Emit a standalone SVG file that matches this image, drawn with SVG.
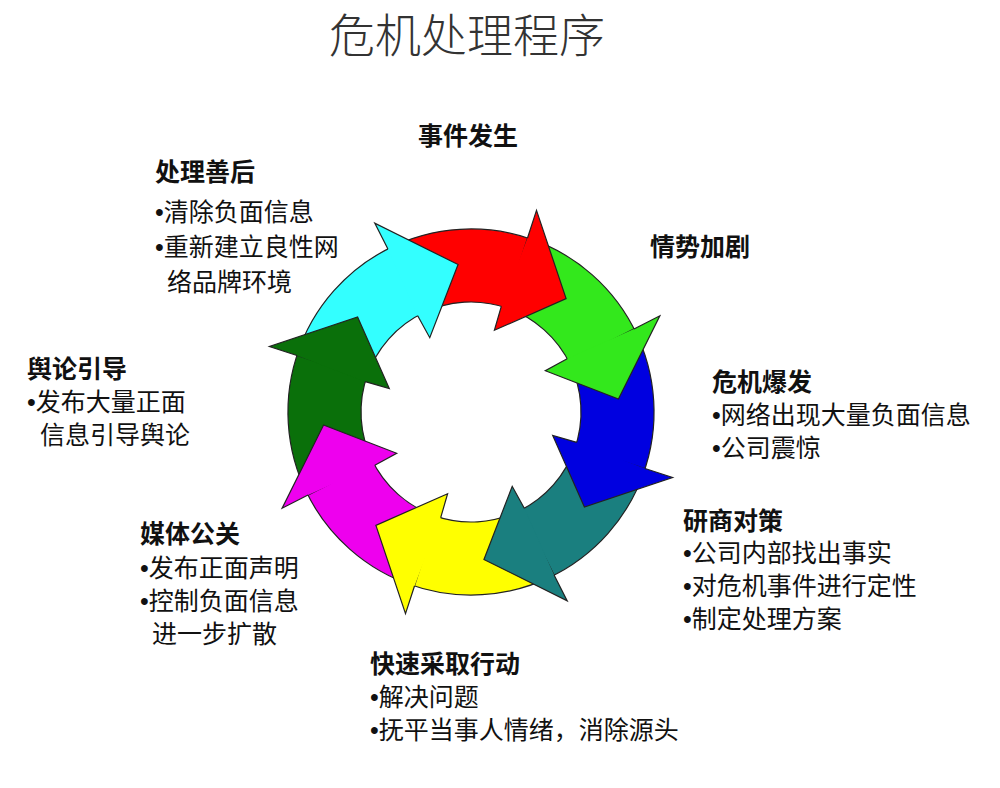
<svg xmlns="http://www.w3.org/2000/svg" width="1000" height="788" viewBox="0 0 1000 788">
<style>
text{font-family:"Liberation Sans","Noto Sans CJK SC",sans-serif;fill:#111}
.h{font-size:25px;font-weight:bold}
.b{font-size:25px}
.t{font-size:46px;fill:#333;font-weight:300;font-family:"Noto Sans CJK SC",sans-serif}
.a{stroke:#222;stroke-width:1.2}
</style>
<defs>
<path id="body" d="M -83.1,-163.1 A183,183 0 0 1 62.6,-172 L37.6,-103.4 A110,110 0 0 0 -49.9,-98 Z"/>
<path id="head" d="M 56.5,-174 L65.5,-201.6 L95.1,-113.4 L23.4,-81.7 L30.3,-105.7"/>
</defs>
<rect width="1000" height="788" fill="#fff"/>
<text class="t" x="467" y="52" text-anchor="middle">危机处理程序</text>
<g id="connectors" transform="translate(471,412)">
<use href="#body" class="a" fill="#ff0000"/>
<use href="#body" class="a" fill="#33e81c" transform="rotate(45)"/>
<use href="#body" class="a" fill="#0000e0" transform="rotate(90)"/>
<use href="#body" class="a" fill="#1a7f7f" transform="rotate(135)"/>
<use href="#body" class="a" fill="#ffff00" transform="rotate(180)"/>
<use href="#body" class="a" fill="#ee00ee" transform="rotate(225)"/>
<use href="#body" class="a" fill="#0a700a" transform="rotate(270)"/>
<use href="#body" class="a" fill="#33ffff" transform="rotate(315)"/>
<use href="#head" class="a" fill="#ff0000"/>
<use href="#head" class="a" fill="#33e81c" transform="rotate(45)"/>
<use href="#head" class="a" fill="#0000e0" transform="rotate(90)"/>
<use href="#head" class="a" fill="#1a7f7f" transform="rotate(135)"/>
<use href="#head" class="a" fill="#ffff00" transform="rotate(180)"/>
<use href="#head" class="a" fill="#ee00ee" transform="rotate(225)"/>
<use href="#head" class="a" fill="#0a700a" transform="rotate(270)"/>
<use href="#head" class="a" fill="#33ffff" transform="rotate(315)"/>
</g>
<g id="n1"><text class="h" x="418" y="145">事件发生</text></g>
<g id="n2"><text class="h" x="650" y="256">情势加剧</text></g>
<g id="n3"><text class="h" x="712" y="391">危机爆发</text>
<text class="b" x="712" y="424">•网络出现大量负面信息</text>
<text class="b" x="712" y="457">•公司震惊</text></g>
<g id="n4"><text class="h" x="683" y="530">研商对策</text>
<text class="b" x="683" y="562">•公司内部找出事实</text>
<text class="b" x="683" y="595">•对危机事件进行定性</text>
<text class="b" x="683" y="628">•制定处理方案</text></g>
<g id="n5"><text class="h" x="370" y="673">快速采取行动</text>
<text class="b" x="370" y="706">•解决问题</text>
<text class="b" x="370" y="739">•抚平当事人情绪，消除源头</text></g>
<g id="n6"><text class="h" x="140" y="543">媒体公关</text>
<text class="b" x="140" y="577">•发布正面声明</text>
<text class="b" x="140" y="610">•控制负面信息</text>
<text class="b" x="152" y="643">进一步扩散</text></g>
<g id="n7"><text class="h" x="27" y="378">舆论引导</text>
<text class="b" x="27" y="411">•发布大量正面</text>
<text class="b" x="40" y="444">信息引导舆论</text></g>
<g id="n8"><text class="h" x="155" y="181">处理善后</text>
<text class="b" x="155" y="221">•清除负面信息</text>
<text class="b" x="155" y="256">•重新建立良性网</text>
<text class="b" x="167" y="291">络品牌环境</text></g>
</svg>
